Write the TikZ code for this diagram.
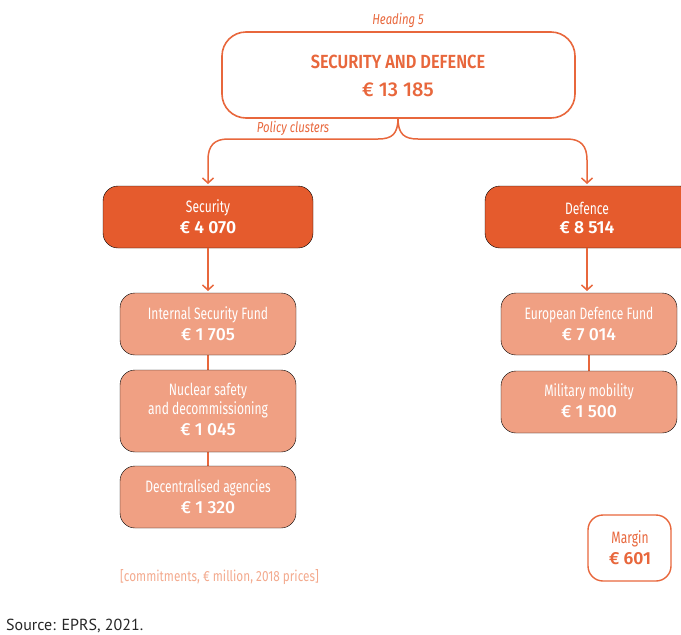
\documentclass[tikz,border=0pt]{standalone}
\usepackage{fontspec}
\setmainfont{Fira Sans}
\newfontfamily\cond[FakeStretch=0.73]{Fira Sans}
\newfontfamily\condit[FakeStretch=0.78]{Fira Sans Italic}
\newfontfamily\titlefont[FakeStretch=0.86]{Fira Sans SemiBold}
\newfontfamily\valfont{Fira Sans Medium}
\newfontfamily\valbold{Fira Sans SemiBold}
\newfontfamily\notefont[FakeStretch=0.80]{Fira Sans}
\newfontfamily\srcfont{PT Sans}
\usetikzlibrary{arrows.meta}
\definecolor{dark}{HTML}{E55B2D}
\definecolor{light}{HTML}{F0A083}
\definecolor{stroke}{HTML}{E8673C}
\definecolor{pale}{HTML}{F3AA8E}
\tikzset{
  x=1pt, y=-1pt,
  topbox/.style={draw=stroke, line width=1.6pt, rounded corners=24pt, fill=white},
  clusterbox/.style={fill=dark, rounded corners=15pt},
  subbox/.style={fill=light, rounded corners=15pt},
  marginbox/.style={draw=stroke, line width=1.4pt, rounded corners=15pt, fill=white},
  conn/.style={draw=stroke, line width=1.5pt},
  arr/.style={conn, -{Straight Barb[length=5pt,width=11pt,line width=1.5pt]}},
  lbl/.style={text=stroke, font=\condit\fontsize{14.5}{16}\selectfont, inner sep=0pt},
  wtxt/.style={text=white, align=center, inner sep=0pt, font=\cond\fontsize{16.5}{19}\selectfont},
  wval/.style={text=white, inner sep=0pt, font=\valfont\fontsize{17.5}{19}\selectfont},
  bval/.style={text=white, inner sep=0pt, font=\valbold\fontsize{17.5}{19}\selectfont},
}
\begin{document}
\begin{tikzpicture}
\useasboundingbox (0,0) rectangle (681,635);
% top box
\draw[topbox] (222,32) rectangle (575,118);
\coordinate (topbot) at (398,118);
\node[text=stroke, font=\titlefont\fontsize{19}{21}\selectfont, inner sep=0pt] (title) at (398,62) {SECURITY AND DEFENCE};
\node[text=stroke, font=\valfont\fontsize{20}{22}\selectfont, inner sep=0pt] (titleval) at (398,90) {€ 13 185};
\node[lbl] (heading) at (398,20) {Heading 5};
\node[lbl] (policy) at (293,128) {Policy clusters};
% clusters
\draw[clusterbox] (103,186) rectangle (313,248);
\draw[clusterbox] (485,186) rectangle (695,248);
\coordinate (sectop) at (208,184);
\coordinate (deftop) at (587,184);
\node[wtxt] (secname) at (208,208) {Security};
\node[bval] (secval) at (208,228) {€ 4 070};
\node[wtxt] (defname) at (587,208) {Defence};
\node[bval] (defval) at (587,228) {€ 8 514};
% connectors from top
\draw[arr] (topbot) .. controls (398,134) and (392,139) .. (378,139) -- (228,139) .. controls (214,139) and (208,146) .. (208,160) -- (sectop);
\draw[arr] (topbot) .. controls (398,134) and (404,139) .. (418,139) -- (567,139) .. controls (581,139) and (587,146) .. (587,160) -- (deftop);
% sub boxes left
\coordinate (secbot) at (208,248);
\coordinate (isftop) at (208,291);
\draw[arr] (secbot) -- (isftop);
\draw[conn] (208,355) -- (208,370);
\draw[conn] (208,452) -- (208,466);
\draw[subbox] (120,293) rectangle (296,355);
\draw[subbox] (120,370) rectangle (296,452);
\draw[subbox] (120,466) rectangle (296,528);
\node[wtxt] (isf) at (208,315) {Internal Security Fund};
\node[wval] (isfv) at (208,335) {€ 1 705};
\node[wtxt] (nuc) at (208,401) {Nuclear safety\\and decommissioning};
\node[wval] (nucv) at (208,430) {€ 1 045};
\node[wtxt] (dec) at (208,488) {Decentralised agencies};
\node[wval] (decv) at (208,508) {€ 1 320};
% sub boxes right
\coordinate (defbot) at (587,248);
\coordinate (edftop) at (587,291);
\draw[arr] (defbot) -- (edftop);
\draw[conn] (589,355) -- (589,371);
\draw[subbox] (501,293) rectangle (677,355);
\draw[subbox] (501,371) rectangle (677,433);
\node[wtxt] (edf) at (589,315) {European Defence Fund};
\node[wval] (edfv) at (589,335) {€ 7 014};
\node[wtxt] (mil) at (589,392) {Military mobility};
\node[wval] (milv) at (589,412) {€ 1 500};
% margin
\draw[marginbox] (588,515) rectangle (671,581);
\node[text=stroke, inner sep=0pt, font=\cond\fontsize{16.5}{18}\selectfont] (marg) at (630,539) {Margin};
\node[text=stroke, inner sep=0pt, font=\valbold\fontsize{17.5}{19}\selectfont] (margv) at (630,559) {€ 601};
% notes
\node[text=pale, anchor=west, inner sep=0pt, font=\notefont\fontsize{14.7}{16}\selectfont] (note) at (120,577) {[commitments, € million, 2018 prices]};
\node[text=black!85, anchor=west, inner sep=0pt, font=\srcfont\fontsize{16}{18}\selectfont] (src) at (6,626) {Source: EPRS, 2021.};
\end{tikzpicture}
\end{document}
